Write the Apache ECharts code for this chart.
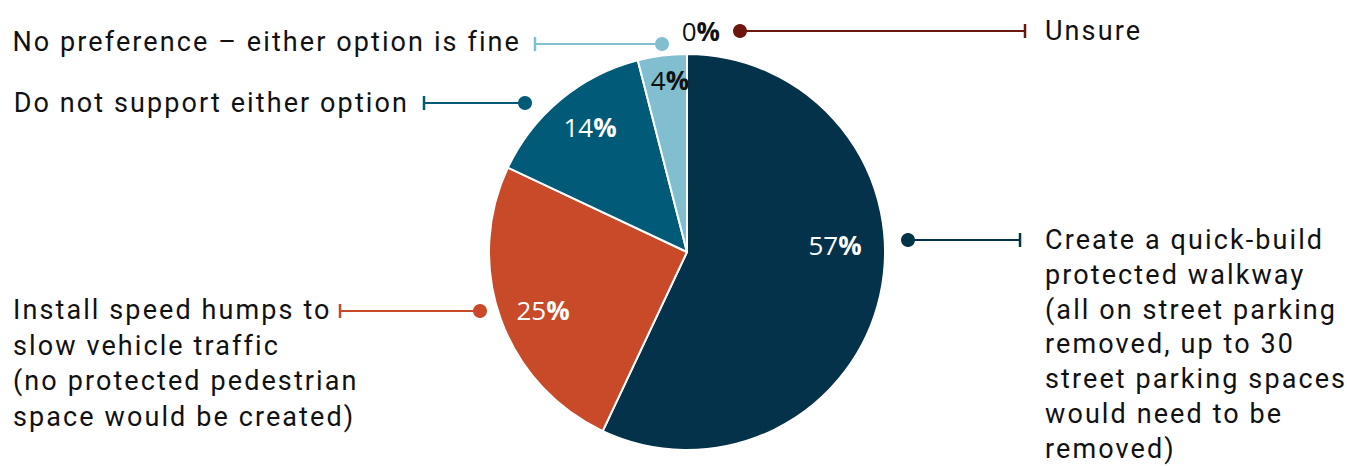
<!DOCTYPE html>
<html>
<head>
<meta charset="utf-8">
<script src="https://cdn.jsdelivr.net/npm/echarts@6/dist/echarts.min.js"></script>
<style>
  html, body { margin: 0; padding: 0; background: #ffffff; }
  #chart { width: 1347px; height: 466px; }
</style>
</head>
<body>
<div id="chart"></div>
<script>
// Survey responses: preferred option for the street
const categories = [
  'Create a quick-build\nprotected walkway\n(all on street parking\nremoved, up to 30\nstreet parking spaces\nwould need to be\nremoved)',
  'Install speed humps to\nslow vehicle traffic\n(no protected pedestrian\nspace would be created)',
  'Do not support either option',
  'No preference \u2013 either option is fine',
  'Unsure'
];
const shares = [57, 25, 14, 4, 0];
const colors = ['#04324a', '#c84a28', '#005a78', '#80bed0', '#6b170d'];

// Layout of the pie and its callouts
const CENTER = [687, 252];
const RADIUS = 198;
const FONT = 'Roboto';
const FONT_SIZE = 27;
const TRACKING = '2.1px';
const PCT_FONT = 'Open Sans';
const PCT_SIZE = 26;
// offset of each percent label from the pie centre
const pctOffsets = [[148, -7], [-144, 58], [-97, -125], [-17, -172], null];
// callout: dot, tick end, text anchor, text side, line height
const callouts = [
  { dot: [908, 240], tick: 1020, text: [1045, 240], align: 'left', lineH: 34.8 },
  { dot: [480, 311], tick: 340, text: [13, 310], align: 'left', lineH: 35.5 },
  { dot: [525, 103], tick: 424, text: [409, 103], align: 'right', lineH: 35 },
  { dot: [662, 44], tick: 535, text: [521, 42], align: 'right', lineH: 35 },
  { dot: [740, 31], tick: 1025, text: [1045, 31], align: 'left', lineH: 35, pct: [720, 31] }
];

const chart = echarts.init(document.getElementById('chart'), null, { renderer: 'svg' });

const pctRich = (color) => ({
  n: { fontFamily: PCT_FONT, fontSize: PCT_SIZE, color: color },
  p: { fontFamily: PCT_FONT, fontSize: PCT_SIZE, fontWeight: 'bold', color: color }
});

const pieData = shares.map((v, i) => ({
  name: categories[i],
  value: v,
  itemStyle: { color: colors[i] },
  label: {
    show: v > 0,
    formatter: '{n|' + v + '}{p|%}',
    rich: pctRich(i === 3 ? '#111111' : '#ffffff')
  }
}));

const graphics = [];
callouts.forEach((c, i) => {
  const col = colors[i];
  graphics.push({
    type: 'line', silent: true,
    shape: { x1: c.dot[0], y1: c.dot[1], x2: c.tick, y2: c.dot[1] },
    style: { stroke: col, lineWidth: 2 }
  });
  graphics.push({
    type: 'line', silent: true,
    shape: { x1: c.tick, y1: c.dot[1] - 7, x2: c.tick, y2: c.dot[1] + 7 },
    style: { stroke: col, lineWidth: 2.5 }
  });
  graphics.push({
    type: 'circle', silent: true,
    shape: { cx: c.dot[0], cy: c.dot[1], r: 7 },
    style: { fill: col }
  });
  // each text line is its own element; the first line is centred on the callout
  categories[i].split('\n').forEach((line, k) => {
    graphics.push({
      type: 'text', silent: true,
      x: c.text[0], y: c.text[1] + k * c.lineH,
      style: {
        text: line,
        fill: '#111111',
        font: FONT_SIZE + 'px ' + FONT,
        align: c.align,
        verticalAlign: 'middle'
      }
    });
  });
  if (c.pct) {
    graphics.push({
      type: 'text', silent: true,
      x: c.pct[0], y: c.pct[1],
      style: {
        text: '{n|' + shares[i] + '}{p|%}',
        rich: {
          n: { fontFamily: PCT_FONT, fontSize: PCT_SIZE, fill: '#111111' },
          p: { fontFamily: PCT_FONT, fontSize: PCT_SIZE, fontWeight: 'bold', fill: '#111111' }
        },
        align: 'right',
        verticalAlign: 'middle'
      }
    });
  }
});

chart.setOption({
  animation: false,
  backgroundColor: '#ffffff',
  series: [{
    type: 'pie',
    center: CENTER,
    radius: [0, RADIUS],
    startAngle: 90,
    clockwise: true,
    minAngle: 0,
    avoidLabelOverlap: false,
    itemStyle: { borderColor: '#ffffff', borderWidth: 2 },
    label: { position: 'inside', align: 'center', verticalAlign: 'middle' },
    labelLine: { show: false },
    emphasis: { disabled: true },
    labelLayout: function (params) {
      const off = pctOffsets[params.dataIndex];
      if (!off) return {};
      return { x: CENTER[0] + off[0], y: CENTER[1] + off[1], align: 'center', verticalAlign: 'middle' };
    },
    data: pieData
  }],
  graphic: graphics
});

// the category text is set with open tracking
document.querySelectorAll('#chart svg text').forEach((t) => {
  if (getComputedStyle(t).fontFamily.indexOf(FONT) !== -1) {
    t.style.letterSpacing = TRACKING;
  }
});
</script>
</body>
</html>
